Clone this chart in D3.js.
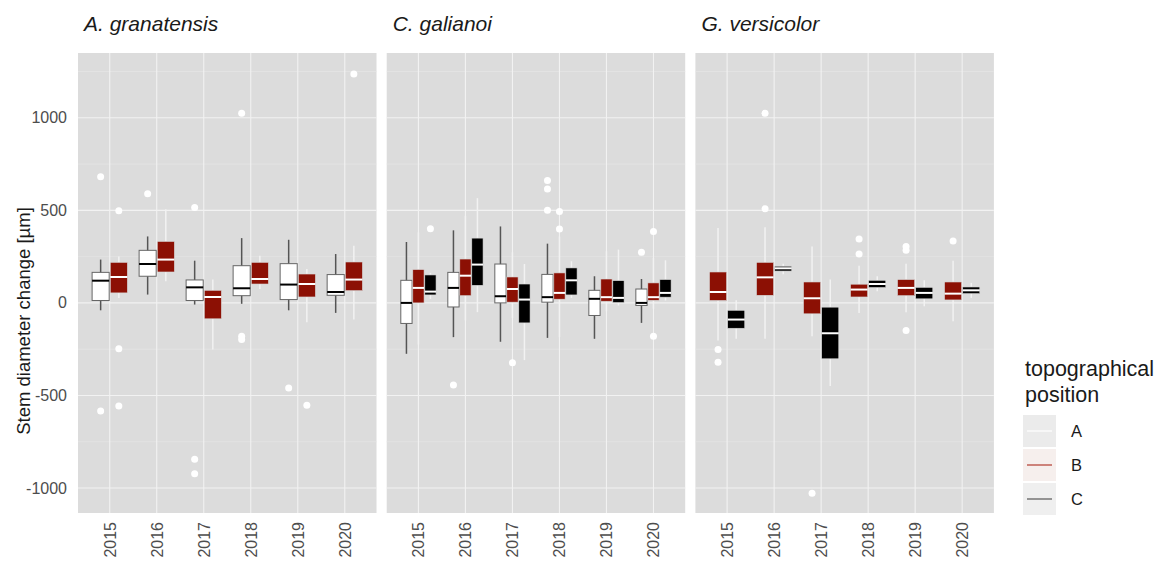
<!DOCTYPE html>
<html>
<head>
<meta charset="utf-8">
<script src="https://cdn.jsdelivr.net/npm/d3@7"></script>
<style>
  body { margin: 0; background: #fff; }
  svg { display: block; font-family: "Liberation Sans", Arial, sans-serif; }
</style>
</head>
<body>
<svg id="chart" width="1161" height="563"></svg>
<script>
// boxplot stats: [year, position, lowWhisker, q1, median, q3, highWhisker]
var species = ["A. granatensis", "C. galianoi", "G. versicolor"];
var years = ["2015", "2016", "2017", "2018", "2019", "2020"];
var positions = ["A", "B", "C"];
var yTicks = [-1000, -500, 0, 500, 1000];
var yMinor = [-750, -250, 250, 750, 1250];

var statsGranatensis = [
  ["2015", "A", -40, 13, 120, 165, 234],
  ["2015", "B", 27, 54, 140, 219, 251],
  ["2016", "A", 45, 144, 210, 284, 359],
  ["2016", "B", 117, 167, 234, 332, 506],
  ["2017", "A", -9, 13, 84, 124, 228],
  ["2017", "B", -252, -86, 32, 68, 126],
  ["2018", "A", -5, 39, 79, 201, 350],
  ["2018", "B", 75, 102, 129, 219, 255],
  ["2019", "A", -40, 18, 99, 212, 341],
  ["2019", "B", -104, 32, 102, 156, 183],
  ["2020", "A", -54, 41, 59, 153, 264],
  ["2020", "B", -90, 66, 126, 221, 309]
];
var statsGalianoi = [
  ["2015", "A", -275, -111, 0, 122, 329],
  ["2015", "B", -225, 0, 81, 180, 381],
  ["2015", "C", 21, 43, 61, 151, 162],
  ["2016", "A", -185, -22, 81, 165, 392],
  ["2016", "B", -95, 39, 147, 237, 470],
  ["2016", "C", -50, 95, 207, 350, 566],
  ["2017", "A", -210, 0, 36, 210, 413],
  ["2017", "B", -81, 4, 75, 140, 273],
  ["2017", "C", -309, -108, 18, 102, 210],
  ["2018", "A", -189, 4, 31, 154, 320],
  ["2018", "B", -185, 20, 54, 162, 359],
  ["2018", "C", 27, 43, 122, 189, 225],
  ["2019", "A", -194, -68, 22, 68, 144],
  ["2019", "B", -45, 9, 31, 129, 279],
  ["2019", "C", -14, 2, 27, 120, 288],
  ["2020", "A", -108, -14, 0, 75, 129],
  ["2020", "B", -32, 14, 31, 108, 243],
  ["2020", "C", 13, 31, 54, 126, 230]
];
var statsVersicolor = [
  ["2015", "B", -203, 13, 59, 167, 404],
  ["2015", "C", -194, -137, -90, -40, 14],
  ["2016", "B", -194, 41, 138, 219, 409],
  ["2016", "C", 155, 172, 187, 198, 212],
  ["2017", "B", -180, -59, 25, 113, 305],
  ["2017", "C", -449, -302, -164, -23, 126],
  ["2018", "B", -54, 32, 72, 101, 201],
  ["2018", "C", 63, 83, 102, 122, 144],
  ["2019", "B", -50, 39, 81, 126, 212],
  ["2019", "C", -18, 22, 54, 84, 122],
  ["2020", "B", -99, 16, 50, 113, 228],
  ["2020", "C", 27, 50, 68, 86, 108]
];

// outliers: [year, position, value]
var outGranatensis = [
  ["2015", "A", 682], ["2015", "A", -584], ["2015", "B", 498], ["2015", "B", -248], ["2015", "B", -557],
  ["2016", "A", 589],
  ["2017", "A", 516], ["2017", "A", -845], ["2017", "A", -923],
  ["2018", "A", 1024], ["2018", "A", -180], ["2018", "A", -198],
  ["2019", "A", -460], ["2019", "B", -553],
  ["2020", "B", 1236]
];
var outGalianoi = [
  ["2015", "C", 401],
  ["2016", "A", -444],
  ["2017", "B", -323],
  ["2018", "A", 661], ["2018", "A", 615], ["2018", "A", 500], ["2018", "B", 494], ["2018", "B", 399],
  ["2020", "A", 273], ["2020", "B", 386], ["2020", "B", -180]
];
var outVersicolor = [
  ["2015", "B", -252], ["2015", "B", -320],
  ["2016", "B", 1024], ["2016", "B", 508],
  ["2017", "B", -1028],
  ["2018", "B", 345], ["2018", "B", 264],
  ["2019", "B", 305], ["2019", "B", 284], ["2019", "B", -149],
  ["2020", "B", 334]
];

var panelStats = [statsGranatensis, statsGalianoi, statsVersicolor];
var panelOut = [outGranatensis, outGalianoi, outVersicolor];

var fillCol = {A: "#ffffff", B: "#8c1004", C: "#000000"};
var medCol = {A: "#000000", B: "#ffffff", C: "#ffffff"};

var svg = d3.select("#chart"),
    plotTop = 53, plotBottom = 513,
    panelLeft = [78, 386.7, 695.4],
    panelW = 298.5;

var y = d3.scaleLinear().domain([-1135, 1350]).range([plotBottom, plotTop]);

var x = d3.scalePoint().domain(years).range([0, panelW]).padding(0.675);
var step = x.step();

panelLeft.forEach(function(left, i) {
  var g = svg.append("g").attr("transform", "translate(" + left + ",0)");
  var stats = panelStats[i];

  g.append("rect")
      .attr("x", 0).attr("y", plotTop)
      .attr("width", panelW).attr("height", plotBottom - plotTop)
      .attr("fill", "#dcdcdc");

  g.selectAll(".minor").data(yMinor).enter().append("line")
      .attr("x1", 0).attr("x2", panelW)
      .attr("y1", function(d) { return y(d); }).attr("y2", function(d) { return y(d); })
      .attr("stroke", "#e8e8e8").attr("stroke-width", 0.6);

  g.selectAll(".major").data(yTicks).enter().append("line")
      .attr("x1", 0).attr("x2", panelW)
      .attr("y1", function(d) { return y(d); }).attr("y2", function(d) { return y(d); })
      .attr("stroke", "#f2f2f2").attr("stroke-width", 1.1);

  g.selectAll(".vgrid").data(years).enter().append("line")
      .attr("x1", function(d) { return x(d); }).attr("x2", function(d) { return x(d); })
      .attr("y1", plotTop).attr("y2", plotBottom)
      .attr("stroke", "#f2f2f2").attr("stroke-width", 1.1);

  // groups present in this panel get dodged side by side
  var present = positions.filter(function(p) {
    return stats.some(function(s) { return s[1] === p; });
  });
  var dodge = d3.scaleBand().domain(present)
      .range([-step * 0.375, step * 0.375]).paddingInner(0.06);
  var cx = function(yr, p) { return x(yr) + dodge(p) + dodge.bandwidth() / 2; };
  var bw = dodge.bandwidth();

  var box = g.selectAll(".box").data(stats).enter().append("g");

  box.append("line")
      .attr("x1", function(d) { return cx(d[0], d[1]); })
      .attr("x2", function(d) { return cx(d[0], d[1]); })
      .attr("y1", function(d) { return y(d[6]); })
      .attr("y2", function(d) { return y(d[2]); })
      .attr("stroke", function(d) { return d[1] === "A" ? "#555" : "#f2f2f2"; })
      .attr("stroke-width", 1.5);

  box.append("rect")
      .attr("x", function(d) { return cx(d[0], d[1]) - bw / 2; })
      .attr("y", function(d) { return y(d[5]); })
      .attr("width", bw)
      .attr("height", function(d) { return y(d[3]) - y(d[5]); })
      .attr("fill", function(d) { return fillCol[d[1]]; })
      .attr("stroke", function(d) { return d[1] === "A" ? "#666" : "#d8d8d8"; })
      .attr("stroke-width", function(d) { return d[1] === "A" ? 1 : 0.6; });

  box.append("line")
      .attr("x1", function(d) { return cx(d[0], d[1]) - bw / 2; })
      .attr("x2", function(d) { return cx(d[0], d[1]) + bw / 2; })
      .attr("y1", function(d) { return y(d[4]); })
      .attr("y2", function(d) { return y(d[4]); })
      .attr("stroke", function(d) { return medCol[d[1]]; })
      .attr("stroke-width", 2);

  g.selectAll(".out").data(panelOut[i]).enter().append("circle")
      .attr("cx", function(d) { return cx(d[0], d[1]); })
      .attr("cy", function(d) { return y(d[2]); })
      .attr("r", 3.5)
      .attr("fill", "#fff");

  // x tick labels, rotated
  g.selectAll(".xlab").data(years).enter().append("text")
      .attr("transform", function(d) { return "translate(" + (x(d) + 6) + "," + (plotBottom + 9) + ") rotate(-90)"; })
      .attr("text-anchor", "end")
      .attr("fill", "#4d4d4d")
      .style("font-size", "16px")
      .text(function(d) { return d; });

  g.append("text")
      .attr("x", 6).attr("y", 31)
      .attr("fill", "#1a1a1a")
      .style("font-size", "21px")
      .style("font-style", "italic")
      .text(species[i]);
});

// y axis labels
svg.selectAll(".ylab").data(yTicks).enter().append("text")
    .attr("x", 67).attr("y", function(d) { return y(d) + 5.5; })
    .attr("text-anchor", "end")
    .attr("fill", "#4d4d4d")
    .style("font-size", "16px")
    .text(function(d) { return d; });

svg.append("text")
    .attr("transform", "translate(30,321) rotate(-90)")
    .attr("text-anchor", "middle")
    .attr("fill", "#1a1a1a")
    .style("font-size", "18.5px")
    .text("Stem diameter change [\u00b5m]");

// legend
var legend = svg.append("g").attr("transform", "translate(1023,0)");
legend.append("text").attr("x", 2).attr("y", 376).style("font-size", "21.5px").attr("fill", "#1a1a1a").text("topographical");
legend.append("text").attr("x", 2).attr("y", 402).style("font-size", "21.5px").attr("fill", "#1a1a1a").text("position");

var keyBg = {A: "#ebebeb", B: "#f6efed", C: "#efefef"};
var keyLine = {A: "#ffffff", B: "#b23b30", C: "#555555"};
var key = legend.selectAll(".key").data(positions).enter().append("g")
    .attr("transform", function(d, i) { return "translate(0," + (415 + i * 34) + ")"; });
key.append("rect").attr("width", 33).attr("height", 32).attr("fill", function(d) { return keyBg[d]; });
key.append("line").attr("x1", 4).attr("x2", 29).attr("y1", 16).attr("y2", 16)
    .attr("stroke", function(d) { return keyLine[d]; }).attr("stroke-width", 1.2);
key.append("text").attr("x", 48).attr("y", 22)
    .style("font-size", "16.5px").attr("fill", "#1a1a1a")
    .text(function(d) { return d; });
</script>
</body>
</html>
